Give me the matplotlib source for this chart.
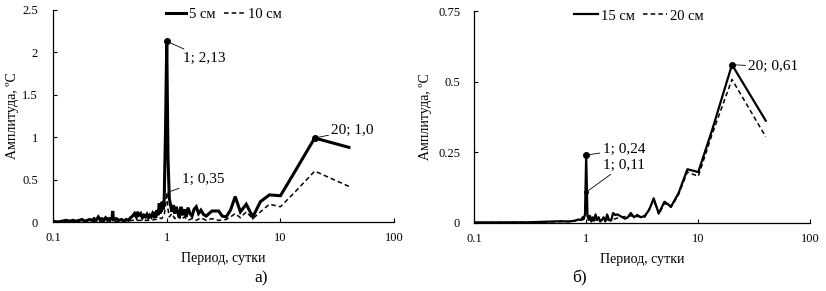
import matplotlib
matplotlib.use('Agg')
import matplotlib.pyplot as plt

plt.rcParams['font.family'] = ['Liberation Serif', 'DejaVu Serif']
plt.rcParams['font.size'] = 10

# panel a) - 5 cm and 10 cm
period_5 = [0.1, 0.11, 0.12, 0.13, 0.14, 0.15, 0.16, 0.17, 0.18, 0.19, 0.2, 0.21,
            0.22, 0.23, 0.24, 0.25, 0.26, 0.27, 0.28, 0.29, 0.3, 0.31, 0.32, 0.33,
            0.335, 0.34, 0.36, 0.38, 0.4, 0.42, 0.44, 0.46, 0.48, 0.5, 0.52, 0.54,
            0.55, 0.57, 0.59, 0.61, 0.63, 0.65, 0.67, 0.69, 0.71, 0.73, 0.75, 0.77,
            0.79, 0.8, 0.82, 0.84, 0.86, 0.87, 0.89, 0.9, 0.91, 0.93, 0.95, 0.976,
            1.0, 1.026, 1.053, 1.081, 1.111, 1.143, 1.176, 1.212, 1.25, 1.29, 1.333,
            1.379, 1.429, 1.481, 1.538, 1.6, 1.667, 1.739, 1.818, 1.905, 2.0, 2.105,
            2.222, 2.353, 2.5, 2.667, 2.857, 3.077, 3.333, 3.636, 4.0, 4.444, 5.0,
            5.714, 6.667, 8.0, 10.0, 13.33, 20.0, 40.0]
amp_5 = [0.01, 0.0, 0.01, 0.02, 0.01, 0.02, 0.01, 0.02, 0.03, 0.01, 0.02, 0.03,
         0.02, 0.04, 0.02, 0.06, 0.03, 0.04, 0.02, 0.05, 0.03, 0.04, 0.03, 0.05,
         0.13, 0.03, 0.04, 0.02, 0.03, 0.01, 0.03, 0.02, 0.05, 0.07, 0.1, 0.06,
         0.12, 0.08, 0.1, 0.05, 0.08, 0.06, 0.09, 0.05, 0.08, 0.06, 0.1, 0.07,
         0.12, 0.05, 0.14, 0.08, 0.22, 0.1, 0.18, 0.12, 0.24, 0.15, 0.27, 1.1,
         2.13, 0.75, 0.28, 0.2, 0.12, 0.2, 0.1, 0.18, 0.12, 0.05, 0.18,
         0.08, 0.15, 0.06, 0.17, 0.1, 0.07, 0.15, 0.18, 0.1, 0.14, 0.09,
         0.07, 0.1, 0.13, 0.13, 0.13, 0.07, 0.06, 0.14, 0.3, 0.12, 0.21,
         0.06, 0.24, 0.32, 0.31, 0.59, 0.99, 0.88]

period_10 = [0.1, 0.2, 0.3, 0.4, 0.5, 0.6, 0.7, 0.8, 0.86, 0.9, 0.95, 0.976, 1.0,
             1.026, 1.053, 1.111, 1.176, 1.25, 1.333, 1.429, 1.538, 1.667, 1.818,
             2.0, 2.222, 2.5, 2.857, 3.333, 3.636, 4.0, 4.444, 5.0, 5.714, 6.667,
             8.0, 10.0, 13.33, 20.0, 40.0]
amp_10 = [0.005, 0.01, 0.01, 0.01, 0.02, 0.02, 0.02, 0.03, 0.05, 0.04, 0.08, 0.2, 0.35,
          0.15, 0.06, 0.1, 0.04, 0.08, 0.03, 0.06, 0.02, 0.04, 0.02,
          0.05, 0.02, 0.04, 0.02, 0.03, 0.06, 0.1, 0.05, 0.12, 0.04, 0.12,
          0.21, 0.18, 0.35, 0.6, 0.42]

# panel b) - 15 cm and 20 cm
period_15 = [0.1, 0.2, 0.3, 0.35, 0.5, 0.6, 0.7, 0.8, 0.85, 0.9, 0.93, 0.95, 0.976,
             1.0, 1.026, 1.053, 1.081, 1.111, 1.143, 1.176, 1.212, 1.25, 1.29,
             1.333, 1.379, 1.429, 1.481, 1.538, 1.6, 1.667, 1.739, 1.818, 1.905,
             2.0, 2.105, 2.222, 2.353, 2.5, 2.667, 2.857, 3.077, 3.333, 3.636,
             4.0, 4.444, 5.0, 5.714, 6.667, 8.0, 10.0, 13.33, 20.0, 40.0]
amp_15 = [0.002, 0.002, 0.002, 0.003, 0.005, 0.006, 0.005, 0.008, 0.012, 0.01, 0.02, 0.015, 0.03,
          0.24, 0.03, 0.01, 0.025, 0.005, 0.02, 0.008, 0.03, 0.01, 0.02,
          0.005, 0.01, 0.02, 0.005, 0.03, 0.01, 0.008, 0.035, 0.028, 0.03,
          0.025, 0.02, 0.015, 0.02, 0.035, 0.02, 0.028, 0.02, 0.025, 0.045,
          0.087, 0.034, 0.075, 0.058, 0.105, 0.19, 0.18, 0.33, 0.56, 0.362]

period_20 = [0.1, 0.3, 0.5, 0.7, 0.85, 0.95, 0.976, 1.0, 1.026, 1.111, 1.25, 1.429,
             1.667, 2.0, 2.5, 3.333, 4.0, 4.444, 5.0, 5.714, 6.667, 8.0, 10.0,
             13.33, 20.0, 40.0]
amp_20 = [0.001, 0.002, 0.004, 0.005, 0.01, 0.012, 0.02, 0.11, 0.02, 0.008, 0.01, 0.012,
          0.01, 0.02, 0.025, 0.02, 0.08, 0.03, 0.07, 0.055, 0.1, 0.18, 0.165,
          0.315, 0.508, 0.305]


def style_axes(ax, ymax, yticks, ytick_labels, ypad, ylabel_x):
    ax.set_xscale('log')
    ax.set_xlim(0.1, 100)
    ax.set_ylim(0, ymax)
    ax.set_xticks([0.1, 1, 10, 100])
    ax.set_xticklabels(['0.1', '1', '10', '100'])
    ax.xaxis.set_minor_locator(matplotlib.ticker.NullLocator())
    ax.set_yticks(yticks)
    ax.set_yticklabels(ytick_labels)
    ax.tick_params(direction='in', length=3, width=0.8, labelsize=9)
    ax.tick_params(axis='y', pad=ypad)
    ax.tick_params(axis='x', pad=7)
    for side in ['top', 'right']:
        ax.spines[side].set_visible(False)
    for side in ['left', 'bottom']:
        ax.spines[side].set_linewidth(0.9)
    ax.set_xlabel('Период, сутки', fontsize=10, labelpad=6)
    ax.set_ylabel('Амплитуда, ºС', fontsize=10)
    ax.yaxis.set_label_coords(ylabel_x, 0.5)


fig = plt.figure(figsize=(8.26, 2.91), dpi=100)
ax1 = fig.add_axes([0.0642, 0.237, 0.413, 0.729])
ax2 = fig.add_axes([0.574, 0.234, 0.407, 0.728])

# a)
ax1.plot(period_5, amp_5, color='black', lw=2.2, label='5 см', solid_joinstyle='miter')
ax1.plot(period_10, amp_10, color='black', lw=1.1, ls=(0, (3, 2)), label='10 см')
ax1.plot([1, 20], [2.13, 0.99], 'o', color='black', ms=4)
style_axes(ax1, 2.5, [0, 0.5, 1, 1.5, 2, 2.5], ['0', '0.5', '1', '1.5', '2', '2.5'],
           ypad=11, ylabel_x=-0.1)
ax1.legend(loc='upper center', bbox_to_anchor=(0.5, 1.07), ncol=2, frameon=False,
           handlelength=1.4, handletextpad=0.2, columnspacing=0.6, fontsize=10.5)
ax1.annotate('1; 2,13', xy=(1, 2.13), xytext=(1.4, 1.93), fontsize=11,
             va='center', arrowprops=dict(arrowstyle='-', lw=0.6, color='black', shrinkA=0, shrinkB=2))
ax1.annotate('1; 0,35', xy=(1.02, 0.35), xytext=(1.36, 0.5), fontsize=11,
             va='center', arrowprops=dict(arrowstyle='-', lw=0.6, color='black', shrinkA=0, shrinkB=0))
ax1.annotate('20; 1,0', xy=(20, 0.99), xytext=(28, 1.08), fontsize=11,
             va='center', arrowprops=dict(arrowstyle='-', lw=0.6, color='black', shrinkA=0, shrinkB=2))
fig.text(0.316, 0.031, 'а)', fontsize=12.5, ha='center')

# б)
ax2.plot(period_15, amp_15, color='black', lw=1.6, label='15 см')
ax2.plot(period_20, amp_20, color='black', lw=1.1, ls=(0, (3, 2)), label='20 см')
ax2.plot([1, 20], [0.24, 0.56], 'o', color='black', ms=4)
ax2.plot([1], [0.11], 'o', color='black', ms=2.5)
style_axes(ax2, 0.75, [0, 0.25, 0.5, 0.75], ['0', '0.25', '0.5', '0.75'],
           ypad=10, ylabel_x=-0.125)
ax2.legend(loc='upper center', bbox_to_anchor=(0.49, 1.07), ncol=2, frameon=False,
           handlelength=1.6, handletextpad=0.2, columnspacing=0.6, fontsize=10.5)
ax2.annotate('1; 0,24', xy=(1, 0.24), xytext=(1.4, 0.26), fontsize=11,
             va='center', arrowprops=dict(arrowstyle='-', lw=0.6, color='black', shrinkA=0, shrinkB=2))
ax2.annotate('1; 0,11', xy=(1.01, 0.11), xytext=(1.4, 0.205), fontsize=11,
             va='center', arrowprops=dict(arrowstyle='-', lw=0.6, color='black', shrinkA=0, shrinkB=0))
ax2.annotate('20; 0,61', xy=(20, 0.56), xytext=(28, 0.553), fontsize=11,
             va='center', arrowprops=dict(arrowstyle='-', lw=0.6, color='black', shrinkA=0, shrinkB=2))
fig.text(0.701, 0.031, 'б)', fontsize=12.5, ha='center')

fig.savefig('out.png', dpi=100)
